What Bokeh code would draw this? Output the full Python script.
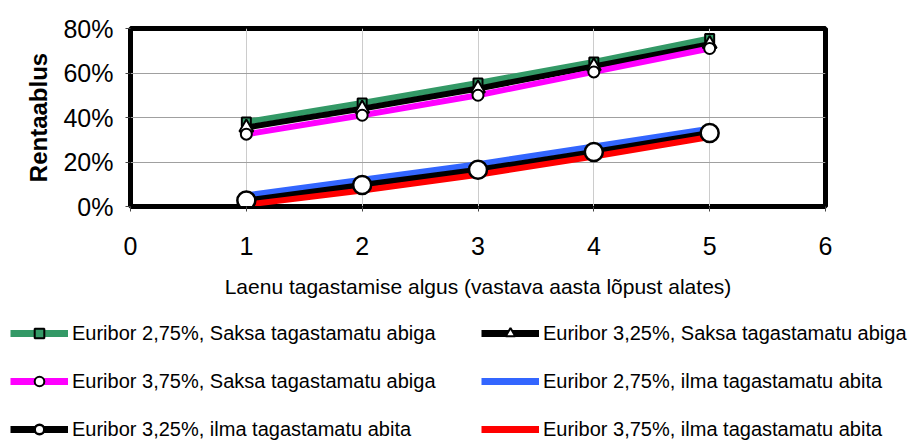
from bokeh.plotting import figure
from bokeh.layouts import column
from bokeh.models import Range1d, NumeralTickFormatter, FixedTicker, Legend, LegendItem
from bokeh.embed import file_html
from bokeh.resources import INLINE

years = [1, 2, 3, 4, 5]
names = [
    "Euribor 2,75%, Saksa tagastamatu abiga",
    "Euribor 3,25%, Saksa tagastamatu abiga",
    "Euribor 3,75%, Saksa tagastamatu abiga",
    "Euribor 2,75%, ilma tagastamatu abita",
    "Euribor 3,25%, ilma tagastamatu abita",
    "Euribor 3,75%, ilma tagastamatu abita",
]
s1 = [0.38, 0.465, 0.555, 0.65, 0.755]
s2 = [0.355, 0.44, 0.53, 0.63, 0.73]
s3 = [0.325, 0.41, 0.50, 0.605, 0.71]
s4 = [0.05, 0.12, 0.19, 0.27, 0.35]
s5 = [0.027, 0.097, 0.165, 0.245, 0.33]
s6 = [0.008, 0.072, 0.143, 0.225, 0.312]
x_ticks = [0, 1, 2, 3, 4, 5, 6]
y_ticks = [0, 0.2, 0.4, 0.6, 0.8]

FONT = "Liberation Sans"
colors = ["#339966", "black", "#ff00ff", "#3366ff", "black", "#ff0000"]
series = [s1, s2, s3, s4, s5, s6]
marker_styles = [
    dict(marker="square", size=9, fill_color="#339966", line_color="black", line_width=2),
    dict(marker="triangle", size=14, fill_color="white", line_color="black", line_width=2),
    dict(marker="circle", size=11, fill_color="white", line_color="black", line_width=2),
    None,
    dict(marker="circle", size=18, fill_color="white", line_color="black", line_width=2.5),
    None,
]

# ---------------- chart ----------------
p = figure(width=919, height=308, output_backend="svg", toolbar_location=None,
           x_range=Range1d(0, 6), y_range=Range1d(0, 0.8),
           min_border_left=130, min_border_right=94, min_border_top=28, min_border_bottom=102)
p.frame_align = False

p.outline_line_color = "black"
p.outline_line_width = 5

p.xaxis.ticker = FixedTicker(ticks=x_ticks)
p.yaxis.ticker = FixedTicker(ticks=y_ticks)
p.yaxis.formatter = NumeralTickFormatter(format="0%")
for ax in (p.xaxis, p.yaxis):
    ax.major_tick_out = 5
    ax.major_tick_in = 0
    ax.minor_tick_out = 0
    ax.minor_tick_in = 0
    ax.major_tick_line_color = "#444444"
    ax.axis_line_color = "black"
    ax.major_label_text_font = FONT
    ax.major_label_text_font_size = "25px"
    ax.major_label_text_color = "black"
    ax.axis_label_text_color = "black"
    ax.axis_label_text_font = FONT
p.xaxis.major_label_standoff = 25
p.yaxis.major_label_standoff = 12

p.xaxis.axis_label = "Laenu tagastamise algus (vastava aasta lõpust alates)"
p.xaxis.axis_label_text_font_size = "21px"
p.xaxis.axis_label_text_font_style = "normal"
p.xaxis.axis_label_standoff = 17
p.yaxis.axis_label = "Rentaablus"
p.yaxis.axis_label_text_font_size = "24px"
p.yaxis.axis_label_text_font_style = "bold"
p.yaxis.axis_label_standoff = 8

p.xgrid.grid_line_color = "#cccccc"
p.ygrid.grid_line_color = "#a0a0a0"

for s, c in zip(series, colors):
    p.line(years, s, line_color=c, line_width=6)
for s, ms in zip(series, marker_styles):
    if ms:
        p.scatter(years, s, **ms)

# ---------------- legend (separate strip below the chart) ----------------
q = figure(width=919, height=136, output_backend="svg", toolbar_location=None,
           x_axis_type=None, y_axis_type=None, x_range=Range1d(100, 101), y_range=Range1d(100, 101),
           min_border_left=0, min_border_right=0, min_border_top=0, min_border_bottom=0)
q.frame_align = False
q.outline_line_color = None
q.xgrid.visible = False
q.ygrid.visible = False

items = []
for name, s, c, ms in zip(names, series, colors, marker_styles):
    rs = [q.line(years, s, line_color=c, line_width=7)]
    if ms:
        rs.append(q.scatter(years, s, **ms))
    items.append(LegendItem(label=name, renderers=rs))

for its, vx in ((items[0::2], 10), (items[1::2], 481)):
    lg = Legend(items=its, location=(vx, 3), orientation="vertical",
                glyph_width=58, glyph_height=24, label_height=24, spacing=24,
                label_standoff=4, padding=0, margin=0,
                border_line_color=None, background_fill_alpha=0,
                label_text_font=FONT, label_text_font_size="20px", label_text_color="black")
    q.add_layout(lg, "center")

layout = column(p, q, spacing=0)
open("out.html", "w").write(file_html(layout, INLINE))
